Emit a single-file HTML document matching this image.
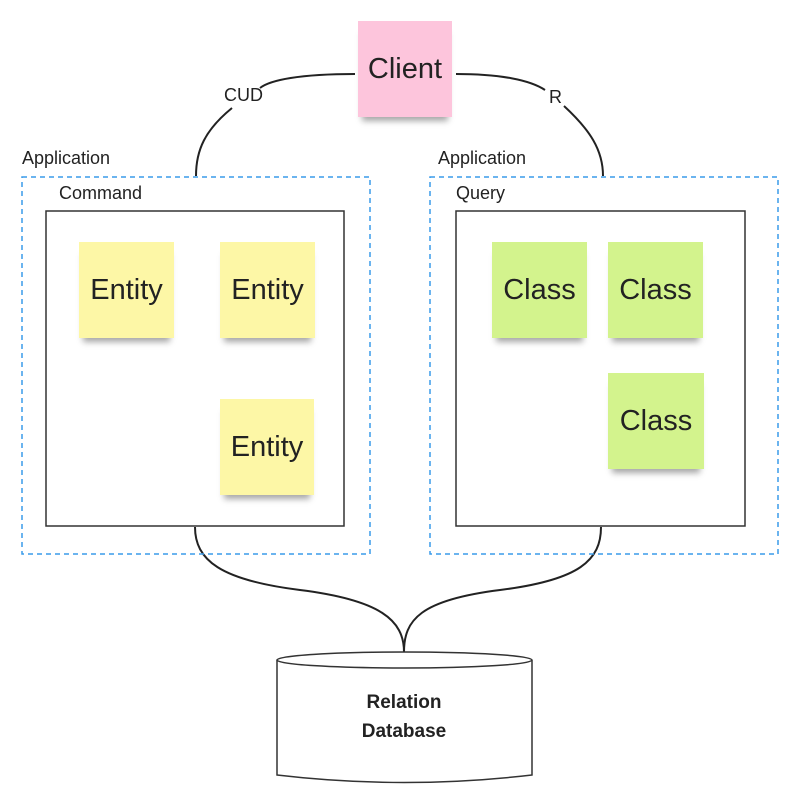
<!DOCTYPE html>
<html><head><meta charset="utf-8"><style>
body{margin:0;background:#fff;width:807px;height:806px;position:relative;overflow:hidden;font-family:"Liberation Sans",sans-serif}
.s{position:absolute;display:flex;align-items:center;justify-content:center;font-size:29px;color:#222;box-shadow:0 8px 6px -4px rgba(0,0,0,.35)}
.y{background:#fdf7a6}.g{background:#d3f38d}.p{background:#fdc5dc}
.l{position:absolute;font-size:18px;color:#222}
</style></head><body>
<svg width="807" height="806" style="position:absolute;left:0;top:0">
<g fill="none" stroke="#222" stroke-width="2">
<path d="M355 74 C300 74 270 80 260 88"/>
<path d="M232 108 C205 130 196 150 196 176"/>
<path d="M456 74 C500 74 530 80 545 90"/>
<path d="M564 106 C590 130 603 150 603 176"/>
<path d="M195 527 C195 560 220 580 300 590 C380 600 404 620 404 652"/>
<path d="M601 527 C601 560 580 580 500 590 C420 600 404 620 404 652"/>
<line x1="177" y1="295" x2="215" y2="295"/>
<line x1="266" y1="354" x2="266" y2="393"/>
</g>
<g fill="none" stroke="#3a9bea" stroke-width="1.5" stroke-dasharray="5,4">
<rect x="22" y="177" width="348" height="377"/>
<rect x="430" y="177" width="348" height="377"/>
</g>
<g fill="#fff" stroke="#333" stroke-width="1.5">
<rect x="46" y="211" width="298" height="315"/>
<rect x="456" y="211" width="289" height="315"/>
<path d="M277 660 L277 775 Q404 790 532 775 L532 660"/>
<ellipse cx="404.5" cy="660" rx="127.5" ry="8"/>
</g>
<text x="404" y="708" text-anchor="middle" font-size="19" font-weight="bold" fill="#222">Relation</text>
<text x="404" y="737" text-anchor="middle" font-size="19" font-weight="bold" fill="#222">Database</text>
</svg>
<div class="s p" style="left:358px;top:21px;width:94px;height:96px">Client</div>
<div class="l" style="left:224px;top:85px">CUD</div>
<div class="l" style="left:549px;top:87px">R</div>
<div class="l" style="left:22px;top:148px">Application</div>
<div class="l" style="left:438px;top:148px">Application</div>
<div class="l" style="left:59px;top:183px">Command</div>
<div class="l" style="left:456px;top:183px">Query</div>
<div class="s y" style="left:79px;top:242px;width:95px;height:96px">Entity</div>
<div class="s y" style="left:220px;top:242px;width:95px;height:96px">Entity</div>
<div class="s y" style="left:220px;top:399px;width:94px;height:96px">Entity</div>
<div class="s g" style="left:492px;top:242px;width:95px;height:96px">Class</div>
<div class="s g" style="left:608px;top:242px;width:95px;height:96px">Class</div>
<div class="s g" style="left:608px;top:373px;width:96px;height:96px">Class</div>
</body></html>
